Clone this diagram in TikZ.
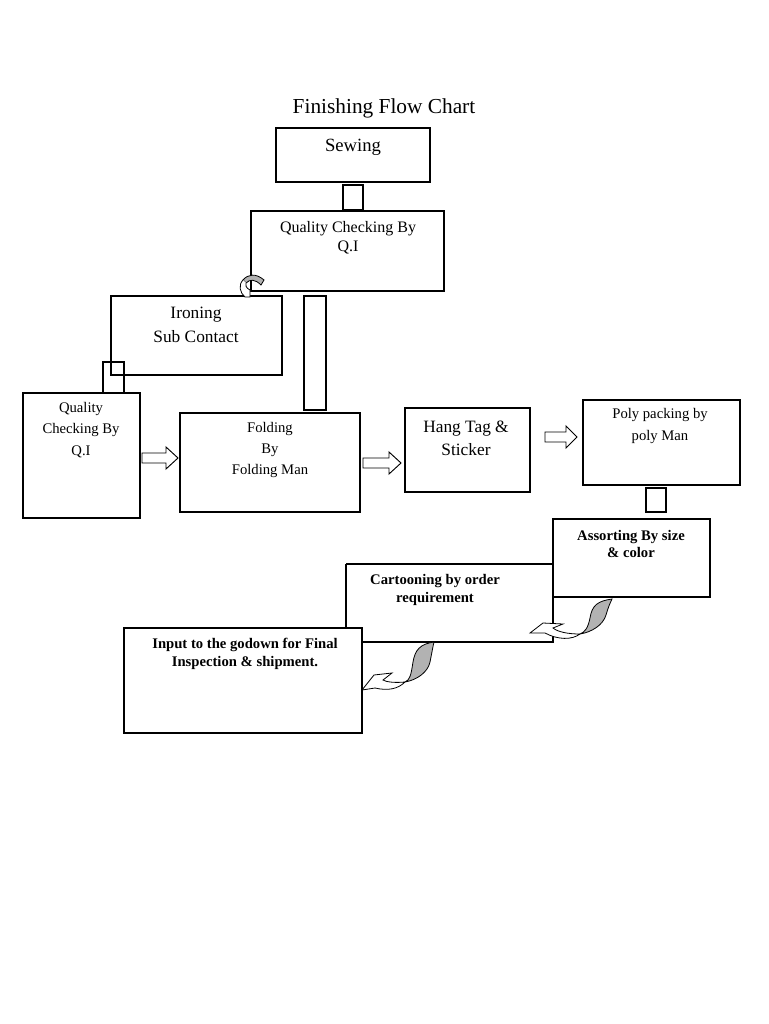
\documentclass[tikz,border=0pt]{standalone}
\usepackage{fontspec}
\setmainfont{Liberation Serif}
\begin{document}
\begin{tikzpicture}[x=0.75pt,y=-0.75pt,
  bx/.style={draw,line width=0.8pt},
  t/.style={font=\fontsize{12}{14}\selectfont,align=center,inner sep=0},
  tb/.style={font=\fontsize{11}{13}\selectfont\bfseries,align=center,inner sep=0},
  barrow/.style={draw,fill=white,line width=0.7pt},
  ca/.style={draw,line width=0.6pt}]
\useasboundingbox[fill=white] (0,0) rectangle (768,1024);
\node[font=\fontsize{16}{18}\selectfont] (title) at (384,108) {Finishing Flow Chart};
\draw[bx] (276,128) rectangle (430,182); \node[t,font=\fontsize{14}{16}\selectfont] (sew) at (353,147) {Sewing};
\draw[bx] (343,185) rectangle (363,210);
\draw[bx] (251,211) rectangle (444,291); \node[t] (qc1) at (348,238) {Quality Checking By\\Q.I};
\draw[bx] (111,296) rectangle (282,375); \node[t,font=\fontsize{13}{18}\selectfont] (iron) at (196,325) {Ironing\\Sub Contact};
\draw[bx] (304,296) rectangle (326,410);
\draw[bx] (103,362) rectangle (124,393);
\draw[bx] (23,393) rectangle (140,518); \node[t,font=\fontsize{11}{16}\selectfont] (qc2) at (81,430) {Quality\\Checking By\\Q.I};
\draw[bx] (180,413) rectangle (360,512); \node[t,font=\fontsize{11}{16}\selectfont] (fold) at (270,450) {Folding\\By\\Folding Man};
\draw[bx] (405,408) rectangle (530,492); \node[t,font=\fontsize{13}{17}\selectfont] (hang) at (466,438) {Hang Tag \&\\Sticker};
\draw[bx] (583,400) rectangle (740,485); \node[t,font=\fontsize{11}{16}\selectfont] (poly) at (660,426) {Poly packing by\\poly Man};
\draw[bx] (646,488) rectangle (666,512);
\draw[bx] (346,564) -- (553,564); \draw[bx] (346,564) -- (346,628);
\draw[bx] (553,597) -- (553,642) -- (362,642);
\node[tb] (cart) at (435,590) {Cartooning by order\\requirement};
\draw[bx] (553,519) rectangle (710,597); \node[tb] (ass) at (631,544) {Assorting By size\\\& color};
\draw[bx] (124,628) rectangle (362,733); \node[tb] (inp) at (245,654) {Input to the godown for Final\\Inspection \& shipment.};
% block arrows
\draw[barrow] (142,453) -- (166,453) -- (166,447) -- (178,458) -- (166,469) -- (166,463) -- (142,463) -- cycle;
\draw[barrow] (363,458) -- (389,458) -- (389,452) -- (401,463) -- (389,474) -- (389,468) -- (363,468) -- cycle;
\draw[barrow] (545,432) -- (566,432) -- (566,426) -- (577,437) -- (566,448) -- (566,442) -- (545,442) -- cycle;
% curved arrow at QC1
\draw[ca,fill=gray!60] (264,280) .. controls (256,273) and (248,274) .. (243,280) -- (246,283) .. controls (250,279) and (255,279) .. (261,285) -- cycle;
\draw[ca,fill=white] (243,280) .. controls (238,285) and (240,293) .. (245,297) -- (250,297) -- (250,290) .. controls (246,288) and (245,285) .. (246,283);
% curved arrow Assorting -> Cartooning
\draw[ca,fill=gray!60] (612,599) .. controls (598,601) and (592,605) .. (590,618) .. controls (588,628) and (585,632) .. (580,634) .. controls (592,632) and (603,625) .. (606,615) .. controls (608,608) and (610,603) .. (612,599) -- cycle;
\draw[ca,fill=white] (580,634) .. controls (568,634) and (558,632) .. (553,628) -- (563,624) -- (543,623) -- (530,633) -- (545,633) .. controls (558,640) and (572,640) .. (580,634);
% curved arrow Cartooning -> Input
\draw[ca,fill=gray!60] (434,642) .. controls (420,644) and (415,650) .. (413,662) .. controls (411,675) and (410,680) .. (405,682) .. controls (417,680) and (428,672) .. (430,662) .. controls (432,652) and (433,646) .. (434,642) -- cycle;
\draw[ca,fill=white] (405,682) .. controls (395,683) and (386,682) .. (383,680) -- (392,673) -- (374,675) -- (362,690) -- (375,688) .. controls (388,691) and (398,689) .. (405,682);
\end{tikzpicture}
\end{document}
